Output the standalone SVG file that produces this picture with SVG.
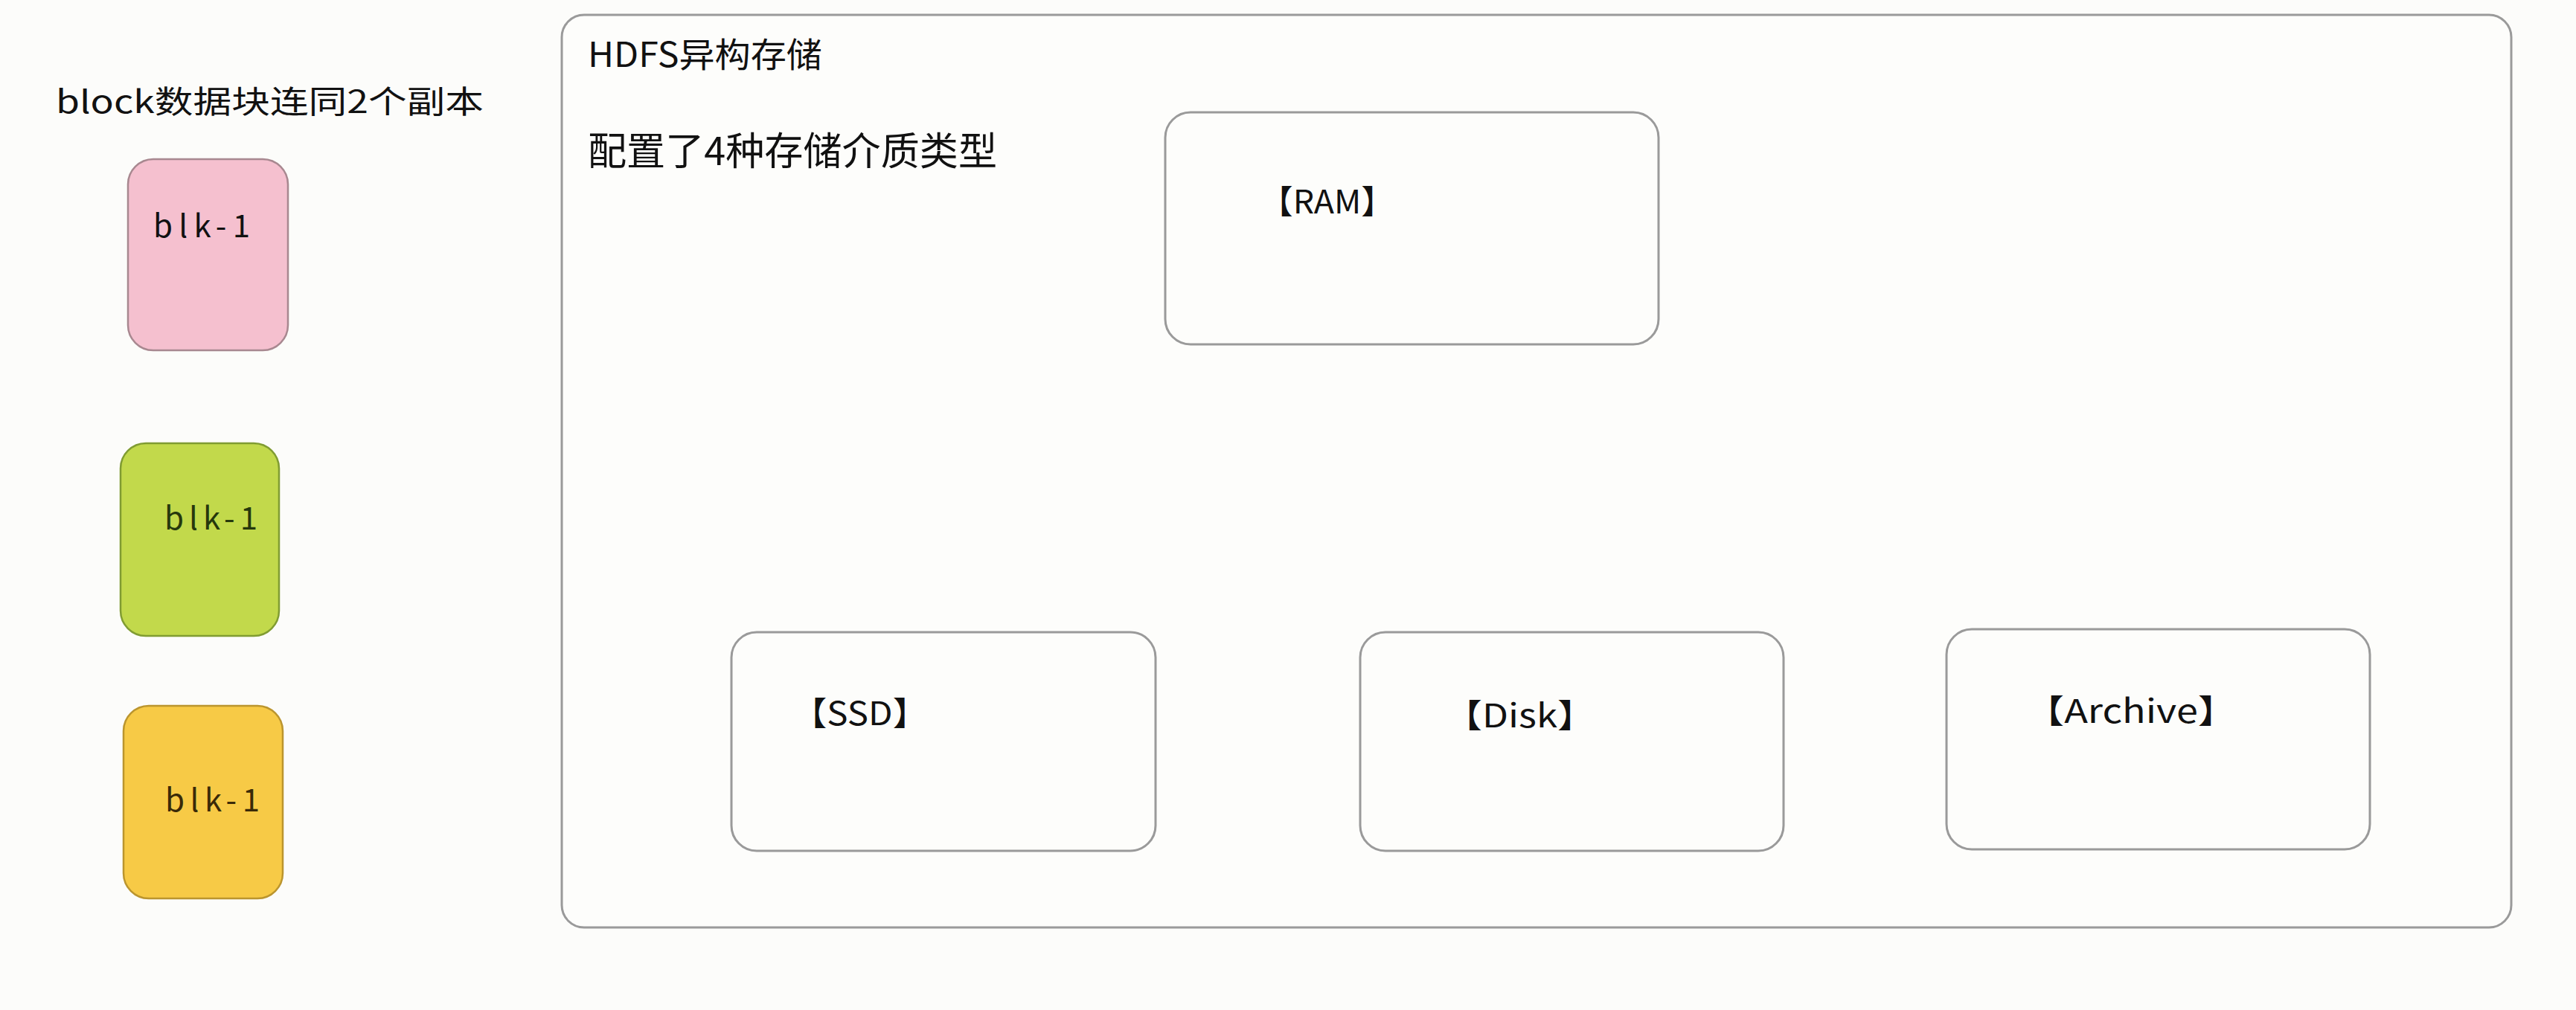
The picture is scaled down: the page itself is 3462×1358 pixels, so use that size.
<svg xmlns="http://www.w3.org/2000/svg" width="3462" height="1358" viewBox="0 0 3462 1358">
<style>
.t{font-family:"Noto Sans CJK SC","Liberation Sans",sans-serif;fill:#111}
.box{fill:#fdfdfb;stroke:#9a9a9a;stroke-width:3}
.lbl{font-size:44px}
.blk{font-size:42px;font-weight:400}
</style>
<rect x="0" y="0" width="3462" height="1358" fill="#fcfcfa"/>
<g id="caption">
<text class="t" x="75" y="152" font-size="42" textLength="575" lengthAdjust="spacingAndGlyphs">block数据块连同2个副本</text>
</g>
<g id="blk-pink">
<rect x="172" y="214" width="215" height="257" rx="34" fill="#f5c0cf" stroke="#a88890" stroke-width="2.5"/>
<text class="t blk" x="206" y="319" textLength="130" lengthAdjust="spacing" fill="#2e2228">blk-1</text>
</g>
<g id="blk-green">
<rect x="162" y="596" width="213" height="259" rx="34" fill="#c2d94b" stroke="#809c32" stroke-width="2.5"/>
<text class="t blk" x="221" y="712" textLength="125" lengthAdjust="spacing" style="fill:#26380c">blk-1</text>
</g>
<g id="blk-orange">
<rect x="166" y="949" width="214" height="259" rx="34" fill="#f7ca46" stroke="#bb952e" stroke-width="2.5"/>
<text class="t blk" x="222" y="1091" textLength="127" lengthAdjust="spacing" style="fill:#3a2a08">blk-1</text>
</g>
<g id="hdfs">
<rect class="box" x="755" y="20" width="2620" height="1227" rx="30"/>
<text class="t" x="790" y="90" font-size="46" textLength="315" lengthAdjust="spacingAndGlyphs">HDFS异构存储</text>
<text class="t" x="790" y="222" font-size="52" textLength="550" lengthAdjust="spacingAndGlyphs">配置了4种存储介质类型</text>
</g>
<g id="ram">
<rect class="box" x="1566" y="151" width="663" height="312" rx="34"/>
<text class="t lbl" x="1693" y="287" textLength="181" lengthAdjust="spacingAndGlyphs">【RAM】</text>
</g>
<g id="ssd">
<rect class="box" x="983" y="850" width="570" height="294" rx="34"/>
<text class="t lbl" x="1064" y="975" textLength="183" lengthAdjust="spacingAndGlyphs">【SSD】</text>
</g>
<g id="disk">
<rect class="box" x="1828" y="850" width="569" height="294" rx="34"/>
<text class="t lbl" x="1941" y="978" textLength="203" lengthAdjust="spacingAndGlyphs">【Disk】</text>
</g>
<g id="archive">
<rect class="box" x="2616" y="846" width="569" height="296" rx="34"/>
<text class="t lbl" x="2722" y="972" textLength="284" lengthAdjust="spacingAndGlyphs">【Archive】</text>
</g>
<g id="connectors"/>
</svg>
